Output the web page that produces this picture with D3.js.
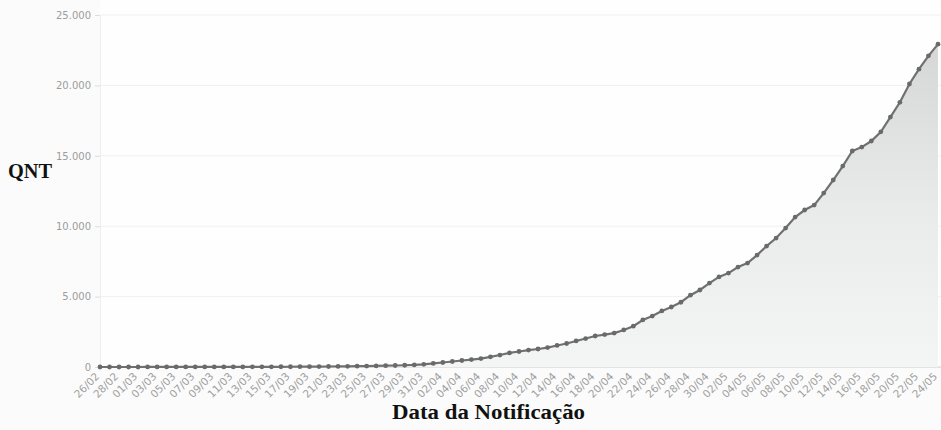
<!DOCTYPE html>
<html>
<head>
<meta charset="utf-8">
<script src="https://cdn.jsdelivr.net/npm/d3@7"></script>
<style>
  html, body { margin: 0; padding: 0; background: #fbfbfb; }
  svg { display: block; }
  .tick-y { font: 10px "DejaVu Sans", Arial, sans-serif; fill: #9c9c9c; }
  .tick-x { font: 10.5px "DejaVu Sans", Arial, sans-serif; fill: #a0a0a0; }
  .title { font: bold 20px "Liberation Serif", "Times New Roman", serif; fill: #111; }
</style>
</head>
<body>
<div id="chart"></div>
<script>
// daily notification dates, 26/02 to 24/05
const dates = [
  "26/02","27/02","28/02","29/02","01/03","02/03","03/03","04/03","05/03","06/03",
  "07/03","08/03","09/03","10/03","11/03","12/03","13/03","14/03","15/03","16/03",
  "17/03","18/03","19/03","20/03","21/03","22/03","23/03","24/03","25/03","26/03",
  "27/03","28/03","29/03","30/03","31/03","01/04","02/04","03/04","04/04","05/04",
  "06/04","07/04","08/04","09/04","10/04","11/04","12/04","13/04","14/04","15/04",
  "16/04","17/04","18/04","19/04","20/04","21/04","22/04","23/04","24/04","25/04",
  "26/04","27/04","28/04","29/04","30/04","01/05","02/05","03/05","04/05","05/05",
  "06/05","07/05","08/05","09/05","10/05","11/05","12/05","13/05","14/05","15/05",
  "16/05","17/05","18/05","19/05","20/05","21/05","22/05","23/05","24/05"
];
// cumulative count (QNT)
const qnt = [
  1, 1, 1, 1, 1, 2, 2, 2, 3, 3,
  4, 4, 5, 6, 7, 8, 10, 12, 14, 16,
  19, 22, 26, 30, 35, 41, 48, 56, 66, 78,
  92, 108, 125, 145, 190, 255, 320, 390, 460, 530,
  600, 720, 850, 1000, 1100, 1200, 1280, 1380, 1530, 1670,
  1850, 2020, 2200, 2300, 2410, 2630, 2900, 3340, 3620, 3980,
  4260, 4600, 5100, 5470, 5960, 6400, 6670, 7100, 7380, 7950,
  8590, 9160, 9870, 10650, 11150, 11500, 12350, 13280, 14270, 15340,
  15620, 16050, 16700, 17750, 18800, 20100, 21150, 22100, 22930
];
const yTicks = [0, 5000, 10000, 15000, 20000, 25000];
const xTickLabels = dates.filter((d, i) => i % 2 === 0);

const W = 941, H = 430;
const m = { top: 15, right: 3, bottom: 63, left: 100 };

const svg = d3.select("#chart").append("svg").attr("width", W).attr("height", H);

// plot background
svg.append("rect").attr("x", m.left).attr("y", 0).attr("width", W - m.left).attr("height", H - m.bottom)
  .attr("fill", "#fefefe");

const x = d3.scalePoint().domain(dates).range([m.left, W - m.right]);
const y = d3.scaleLinear().domain([0, 25000]).range([H - m.bottom, m.top]);
const fmt = d3.formatLocale({ decimal: ",", thousands: ".", grouping: [3], currency: ["", ""] }).format(",");

// gridlines
svg.append("g").selectAll("line").data(yTicks).join("line")
  .attr("x1", m.left).attr("x2", W).attr("y1", d => y(d)).attr("y2", d => y(d))
  .attr("stroke", d => d === 0 ? "#dcdcdc" : "#f0f0f0").attr("stroke-width", d => d === 0 ? 1.5 : 1);

// y axis
const yAxis = svg.append("g").attr("transform", `translate(${m.left},0)`)
  .call(d3.axisLeft(y).tickValues(yTicks).tickFormat(fmt).tickSize(5).tickPadding(4));
yAxis.select(".domain").attr("stroke", "#eeeeee");
yAxis.selectAll(".tick line").attr("stroke", "#dddddd");
yAxis.selectAll("text").attr("class", "tick-y").attr("fill", null);

// area + line
const grad = svg.append("defs").append("linearGradient").attr("id", "areaGrad")
  .attr("gradientUnits", "userSpaceOnUse").attr("x1", 0).attr("x2", 0)
  .attr("y1", y(25000)).attr("y2", y(0));
grad.append("stop").attr("offset", "0%").attr("stop-color", "#d2d4d4");
grad.append("stop").attr("offset", "55%").attr("stop-color", "#e9ebea");
grad.append("stop").attr("offset", "100%").attr("stop-color", "#f4f6f6");

const pts = dates.map((d, i) => ({ d, v: qnt[i] }));
svg.append("path").datum(pts)
  .attr("fill", "url(#areaGrad)")
  .attr("d", d3.area().x(p => x(p.d)).y0(y(0)).y1(p => y(p.v)));
svg.append("path").datum(pts)
  .attr("fill", "none").attr("stroke", "#707070").attr("stroke-width", 2.2)
  .attr("d", d3.line().x(p => x(p.d)).y(p => y(p.v)));
svg.append("g").selectAll("circle").data(pts).join("circle")
  .attr("cx", p => x(p.d)).attr("cy", p => y(p.v)).attr("r", 2.4).attr("fill", "#6a6a6a");

// x tick labels, rotated
svg.append("g").selectAll("text").data(xTickLabels).join("text")
  .attr("class", "tick-x")
  .attr("text-anchor", "end")
  .attr("transform", d => `translate(${x(d)},${y(0) + 10}) rotate(-45)`)
  .text(d => d);

// axis titles
svg.append("text").attr("class", "title").attr("x", 8).attr("y", 178)
  .attr("textLength", 44).attr("lengthAdjust", "spacingAndGlyphs").text("QNT");
svg.append("text").attr("class", "title").attr("x", 392).attr("y", 419)
  .attr("textLength", 193).attr("lengthAdjust", "spacingAndGlyphs").text("Data da Notificação");
</script>
</body>
</html>
